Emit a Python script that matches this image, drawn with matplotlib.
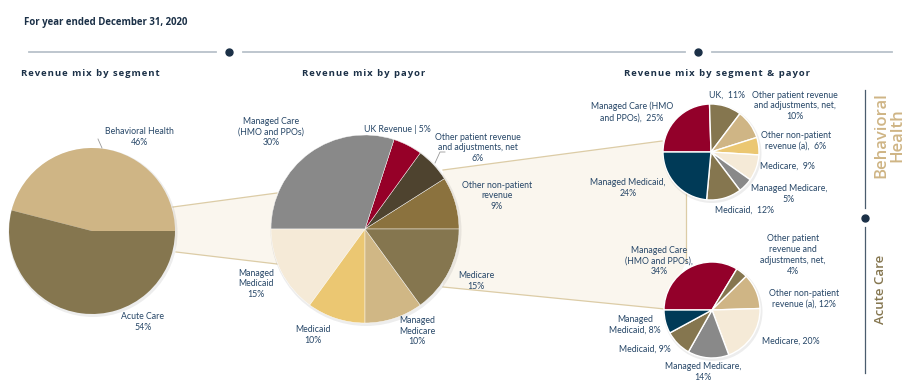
import matplotlib.pyplot as plt
from matplotlib.patches import Polygon, Circle

plt.rcParams['font.family'] = ['Lato', 'DejaVu Sans']

W, H = 920, 391

# --- data ---
segment_names = ["Behavioral Health", "Acute Care"]
segment_share = [46, 54]

payor_names = ["Other non-patient\nrevenue", "Other patient revenue\nand adjustments, net",
               "UK Revenue", "Managed Care\n(HMO and PPOs)", "Managed\nMedicaid",
               "Medicaid", "Managed\nMedicare", "Medicare"]
payor_share = [9, 6, 5, 30, 15, 10, 10, 15]
payor_sep = ["\n", "\n", " | ", "\n", "\n", "\n", "\n", "\n"]

bh_names = ["Managed Care (HMO\nand PPOs),", "UK,", "Other patient revenue\nand adjustments, net,",
            "Other non-patient\nrevenue (a),", "Medicare,", "Managed Medicare,",
            "Medicaid,", "Managed Medicaid,"]
bh_share = [25, 11, 10, 6, 9, 5, 12, 24]
bh_sep = ["  ", "  ", "\n", "  ", "  ", "\n", "  ", "\n"]

ac_names = ["Managed Care\n(HMO and PPOs),", "Other patient\nrevenue and\nadjustments, net,",
            "Other non-patient\nrevenue (a),", "Medicare,", "Managed Medicare,",
            "Medicaid,", "Managed\nMedicaid,"]
ac_share = [34, 4, 12, 20, 14, 9, 8]
ac_sep = ["\n", "\n", " ", " ", "\n", " ", " "]

section_titles = ["Revenue mix by segment", "Revenue mix by payor", "Revenue mix by segment & payor"]

# --- colours ---
TAN, OLIVE, CREAM, YELLOW = "#CFB585", "#85764F", "#F5EAD7", "#EBC772"
GRAY, CRIMSON, NAVY = "#898989", "#93002A", "#003A57"
TXT, HEAD = "#264667", "#1B3047"

segment_colors = [TAN, OLIVE]
payor_colors = ["#8B723E", "#4E432F", "#960028", GRAY, CREAM, YELLOW, "#D0B785", OLIVE]
bh_colors = [CRIMSON, OLIVE, TAN, YELLOW, CREAM, GRAY, OLIVE, NAVY]
ac_colors = [CRIMSON, OLIVE, TAN, CREAM, GRAY, OLIVE, NAVY]

# label positions (pixels from top-left)
segment_pos = [(139, 137), (143, 322)]
payor_pos = [(497, 196), (478, 148), (397, 129), (271, 132), (256, 284),
             (313, 335), (417, 331), (476, 281)]
bh_pos = [(632, 112), (727, 95), (795, 106), (796, 141), (787, 166),
          (789, 194), (745, 210), (628, 188)]
ac_pos = [(659, 261), (793, 255), (804, 299), (791, 341), (703, 372),
          (645, 349), (635, 325)]


def Y(py):
    return H - py


fig = plt.figure(figsize=(9.2, 3.91), dpi=100)
ax = fig.add_axes([0, 0, 1, 1])


def draw_pie(shares, colors, cx, cy, r, start, ccw, edge, lw):
    ax.add_patch(Circle((cx + 1, Y(cy) - 1.5), r + 1.5, color='black', alpha=0.07, zorder=2, lw=0))
    ax.pie(shares, colors=colors, center=(cx, Y(cy)), radius=r, startangle=start,
           counterclock=ccw, frame=True,
           wedgeprops=dict(edgecolor=edge, linewidth=lw, zorder=3))


def draw_labels(names, shares, seps, pos, size=6.3):
    for n, s, sp, (x, y) in zip(names, shares, seps, pos):
        ax.text(x, Y(y), f"{n}{sp}{s}%", ha='center', va='center', fontsize=size,
                color=TXT, linespacing=1.25, zorder=5)


# connectors
fill = "#FAF6EE"
line_c = "#DCCCA6"
ax.add_patch(Polygon([(173, Y(207)), (277, Y(193)), (277, Y(264)), (176, Y(252))],
                     closed=True, facecolor=fill, edgecolor='none', zorder=0))
ax.plot([173, 277], [Y(207), Y(193)], color=line_c, lw=0.9, zorder=1)
ax.plot([176, 277], [Y(252), Y(264)], color=line_c, lw=0.9, zorder=1)

ax.add_patch(Polygon([(443, Y(170)), (662, Y(141)), (686, Y(141)), (686, Y(262)),
                      (665, Y(309)), (443, Y(287))],
                     closed=True, facecolor=fill, edgecolor='none', zorder=0))
ax.plot([443, 662], [Y(170), Y(141)], color=line_c, lw=0.9, zorder=1)
ax.plot([443, 665], [Y(287), Y(309)], color=line_c, lw=0.9, zorder=1)
ax.plot([686, 686], [Y(141), Y(262)], color=line_c, lw=0.9, zorder=1)

# pies
draw_pie(segment_share, segment_colors, 92, 231, 83, 0, True, 'none', 0)
draw_pie(payor_share, payor_colors, 365, 229, 94, 0, True, 'white', 0.3)
draw_pie(bh_share, bh_colors, 711, 152, 48, 180, False, 'white', 1.0)
draw_pie(ac_share, ac_colors, 712, 310, 48, 180, False, 'white', 1.0)

draw_labels(segment_names, segment_share, ["\n", "\n"], segment_pos)
draw_labels(payor_names, payor_share, payor_sep, payor_pos)
draw_labels(bh_names, bh_share, bh_sep, bh_pos)
draw_labels(ac_names, ac_share, ac_sep, ac_pos)

# leader lines
ax.plot([98, 102], [Y(139), Y(148)], color='#999999', lw=0.6, zorder=4)
ax.plot([435, 440, 445], [Y(163), Y(152), Y(152)], color='#999999', lw=0.6, zorder=4)

# header
ax.text(24, Y(23), "For year ended December 31, 2020", fontsize=6.9, fontweight='bold',
        color=HEAD, va='center', family=['Open Sans', 'DejaVu Sans'])
rule_c = "#B9C2CA"
ax.plot([29, 216], [Y(52), Y(52)], color=rule_c, lw=1.3)
ax.plot([243, 685], [Y(52), Y(52)], color=rule_c, lw=1.3)
ax.plot([712, 892], [Y(52), Y(52)], color=rule_c, lw=1.3)
ax.plot([229, 698], [Y(52), Y(52)], 'o', color=HEAD, ms=5)

# letter-spaced section titles
for txt, x in zip(section_titles, [90, 364, 717]):
    spaced = "\u200a".join(txt)
    ax.text(x, Y(73), spaced, fontsize=6.8, fontweight='bold', color=HEAD, ha='center',
            va='center', family=['Open Sans', 'DejaVu Sans'])

# right side segment markers
ax.plot([865, 865], [Y(90), Y(208)], color='#4A5C6E', lw=0.9)
ax.plot([865, 865], [Y(227), Y(373)], color='#4A5C6E', lw=0.9)
ax.plot([865], [Y(218)], 'o', color=HEAD, ms=5)
ax.text(889, Y(135), "Behavioral\nHealth", rotation=90, fontsize=12, fontweight='semibold',
        color=TAN, ha='center', va='center', linespacing=1.0,
        family=['Open Sans', 'DejaVu Sans'])
ax.text(881, Y(289), "Acute Care", rotation=90, fontsize=9.5, fontweight='semibold',
        color=OLIVE, ha='center', va='center', family=['Open Sans', 'DejaVu Sans'])

ax.set_xlim(0, W)
ax.set_ylim(0, H)
ax.set_aspect('auto')
ax.axis('off')

plt.savefig("out.png", dpi=100)
